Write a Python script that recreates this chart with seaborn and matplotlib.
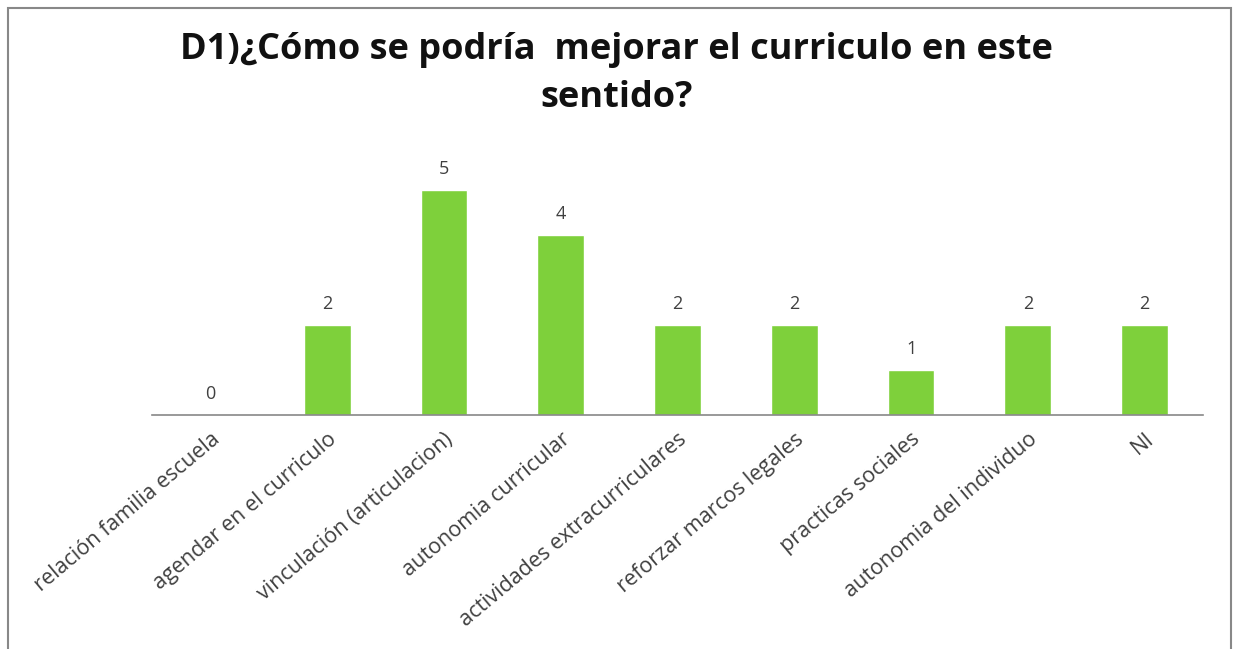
import matplotlib
matplotlib.use('Agg')
import matplotlib.pyplot as plt
import seaborn as sns
import pandas as pd
from matplotlib.patches import Rectangle

# Chart data
categories = ['relación familia escuela', 'agendar en el curriculo', 'vinculación (articulacion)',
              'autonomia curricular', 'actividades extracurriculares', 'reforzar marcos legales',
              'practicas sociales', 'autonomia del individuo', 'NI']
counts = [0, 2, 5, 4, 2, 2, 1, 2, 2]
title = 'D1)¿Cómo se podría  mejorar el curriculo en este\nsentido?'

df = pd.DataFrame({'cat': categories, 'n': counts})

sns.set_style('white')
plt.rcParams['font.family'] = ['Open Sans', 'DejaVu Sans']

fig = plt.figure(figsize=(12.33, 6.49), dpi=100)
ax = fig.add_axes([152 / 1233, 1 - 415 / 649, (1203 - 152) / 1233, 270 / 649])

sns.barplot(data=df, x='cat', y='n', color='#7ED03B', width=0.4, saturation=1, ax=ax)

ax.set_ylim(0, 6)
ax.set_xlim(-0.5, len(categories) - 0.5)
for i, v in enumerate(counts):
    ax.text(i, v + 0.27, str(v), ha='center', va='bottom', fontsize=13, color='#404040')

ax.set_xlabel('')
ax.set_ylabel('')
ax.set_yticks([])
ax.tick_params(axis='x', length=0, pad=10)
ax.set_xticks(range(len(categories)))
ax.set_xticklabels(categories, rotation=40, ha='right', rotation_mode='anchor',
                   fontsize=15.5, color='#404040')
for s in ['top', 'left', 'right']:
    ax.spines[s].set_visible(False)
ax.spines['bottom'].set_color('#888888')
ax.spines['bottom'].set_linewidth(1.2)

fig.text(0.5, 1 - 74 / 649, title, ha='center', va='center', fontsize=26,
         fontweight='bold', linespacing=1.42, color='#111111')

# outer frame
fig.patches.append(Rectangle((8 / 1233, -0.05), (1231 - 8) / 1233, 1.05 - 8 / 649,
                             transform=fig.transFigure, fill=False,
                             edgecolor='#888888', linewidth=1.5))

fig.savefig('out.png', dpi=100)
